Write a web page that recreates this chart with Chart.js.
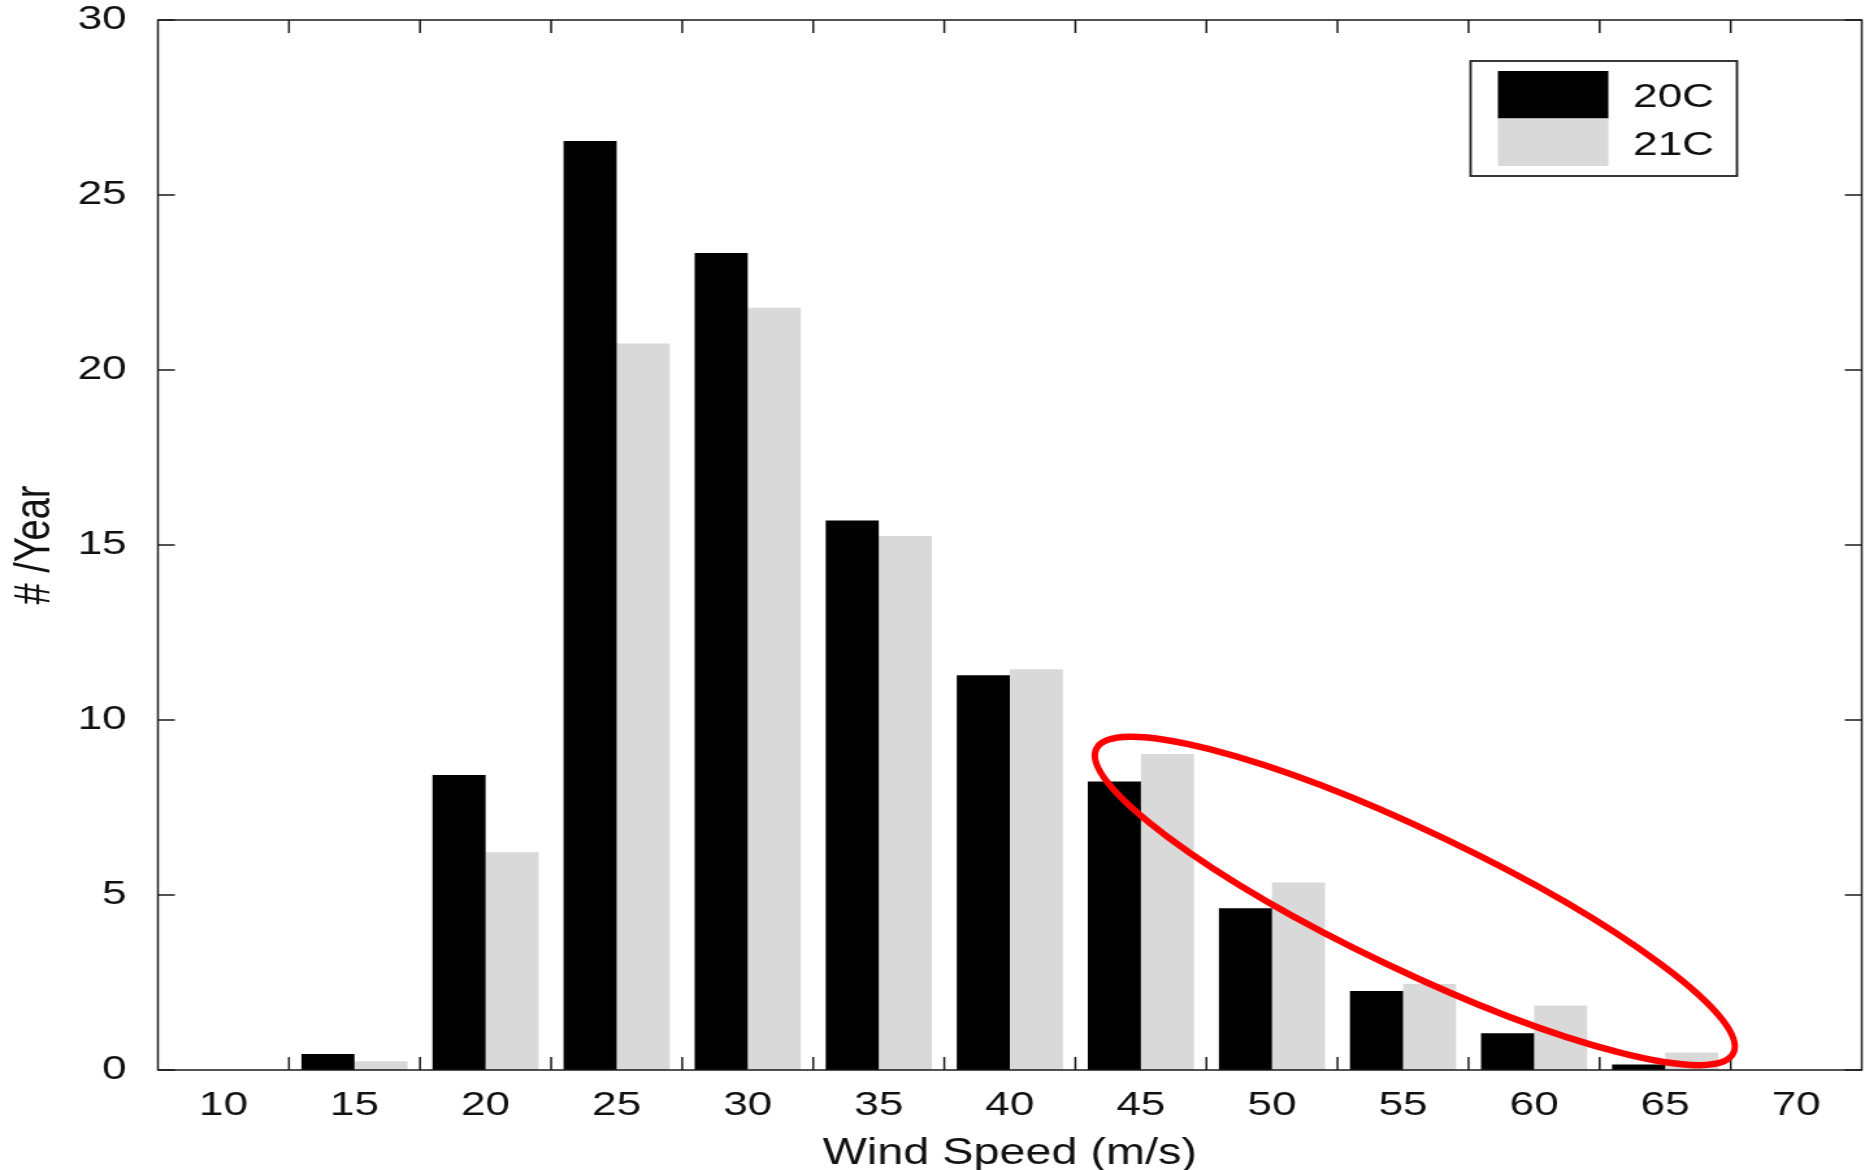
<!DOCTYPE html>
<html>
<head>
<meta charset="utf-8">
<title>Wind Speed histogram</title>
<script src="https://cdn.jsdelivr.net/npm/chart.js@4.4.0/dist/chart.umd.min.js"></script>
<style>
  html, body { margin: 0; padding: 0; background: #fff; overflow: hidden; }
  /* the original figure is stretched sideways, so the chart is drawn narrow and widened */
  #wrap { width: 1435px; height: 1170px; transform: scaleX(1.29965); transform-origin: 0 0; }
</style>
</head>
<body>
<div id="wrap"><canvas id="chart"></canvas></div>
<script>
const windSpeeds = ['10', '15', '20', '25', '30', '35', '40', '45', '50', '55', '60', '65', '70'];
const perYear20C = [0, 0.46, 8.43, 26.54, 23.34, 15.70, 11.28, 8.24, 4.62, 2.26, 1.05, 0.16, 0];
const perYear21C = [0, 0.25, 6.22, 20.76, 21.78, 15.26, 11.45, 9.03, 5.36, 2.46, 1.84, 0.50, 0];
const seriesNames = ['20C', '21C'];
const seriesColors = ['#000000', '#d9d9d9'];
const yTicks = [0, 5, 10, 15, 20, 25, 30];

// red ring around the upper tail: centre as category index / value
const ringCentre = [9.09, 4.83];

const STRETCH = 1865 / 1435;
const TICK = 13;

Chart.defaults.font.family = '"Liberation Sans", Arial, Helvetica, sans-serif';
Chart.defaults.color = '#111';

const frame = {
  id: 'frame',
  afterDatasetsDraw(chart) {
    const { ctx, chartArea: a, scales: { x, y } } = chart;
    const step = x.getPixelForValue(1) - x.getPixelForValue(0);
    ctx.save();
    ctx.strokeStyle = '#1a1a1a';
    ctx.lineWidth = 1.5;
    ctx.strokeRect(a.left, a.top, a.right - a.left, a.bottom - a.top);
    ctx.beginPath();
    for (let i = 1; i < windSpeeds.length; i++) {
      const px = x.getPixelForValue(i) - step / 2;
      ctx.moveTo(px, a.bottom); ctx.lineTo(px, a.bottom - TICK);
      ctx.moveTo(px, a.top); ctx.lineTo(px, a.top + TICK);
    }
    yTicks.forEach(v => {
      const py = y.getPixelForValue(v);
      ctx.moveTo(a.left, py); ctx.lineTo(a.left + TICK, py);
      ctx.moveTo(a.right, py); ctx.lineTo(a.right - TICK, py);
    });
    ctx.stroke();
    ctx.restore();
  }
};

const ring = {
  id: 'ring',
  afterDraw(chart) {
    const { ctx, scales: { x, y } } = chart;
    const cx = x.getPixelForValue(ringCentre[0]);
    const cy = y.getPixelForValue(ringCentre[1]);
    ctx.save();
    ctx.translate(cx, cy);
    ctx.scale(1 / STRETCH, 1);
    ctx.rotate(25.5 * Math.PI / 180);
    ctx.beginPath();
    ctx.ellipse(0, 0, 353, 69, 0, 0, Math.PI * 2);
    ctx.lineWidth = 6.5;
    ctx.strokeStyle = '#ff0000';
    ctx.stroke();
    ctx.restore();
  }
};

const legendBox = {
  id: 'legendBox',
  afterDraw(chart) {
    const { ctx, chartArea: a } = chart;
    const w = 205, h = 115;
    const left = a.right - 96 - w, top = a.top + 41;
    ctx.save();
    ctx.fillStyle = '#fff';
    ctx.fillRect(left, top, w, h);
    ctx.strokeStyle = '#222';
    ctx.lineWidth = 1.8;
    ctx.strokeRect(left, top, w, h);
    ctx.font = '34px "Liberation Sans", Arial, sans-serif';
    ctx.textBaseline = 'middle';
    chart.data.datasets.forEach((ds, i) => {
      const rowTop = top + 10 + i * 47.5;
      ctx.fillStyle = ds.backgroundColor;
      ctx.fillRect(left + 21, rowTop, 85, 47.5);
      ctx.fillStyle = '#111';
      ctx.fillText(ds.label, left + 125, rowTop + 27);
    });
    ctx.restore();
  }
};

new Chart(document.getElementById('chart'), {
  type: 'bar',
  data: {
    labels: windSpeeds,
    datasets: [
      { label: seriesNames[0], data: perYear20C, backgroundColor: seriesColors[0] },
      { label: seriesNames[1], data: perYear21C, backgroundColor: seriesColors[1] }
    ]
  },
  options: {
    responsive: true,
    maintainAspectRatio: false,
    animation: false,
    categoryPercentage: 0.81,
    barPercentage: 1.0,
    layout: { padding: { left: 0, right: 2.5, top: 0, bottom: 0 } },
    plugins: { legend: { display: false }, tooltip: { enabled: false } },
    scales: {
      x: {
        grid: { display: false, drawTicks: false },
        border: { display: false },
        ticks: { font: { size: 34 }, padding: 15, maxRotation: 0 },
        title: { display: true, text: 'Wind Speed (m/s)', font: { size: 36 }, padding: { top: 0, bottom: -6 } },
        afterFit(s) { s.height = 100; }
      },
      y: {
        min: 0,
        max: 30,
        grid: { display: false, drawTicks: false },
        border: { display: false },
        ticks: { stepSize: 5, font: { size: 34 }, padding: 24 },
        title: { display: true, text: '# /Year', font: { size: 38 }, padding: { top: 5, bottom: 4 } },
        afterFit(s) { s.width = 121.5; s.paddingTop = 20; }
      }
    }
  },
  plugins: [frame, ring, legendBox]
});
</script>
</body>
</html>
